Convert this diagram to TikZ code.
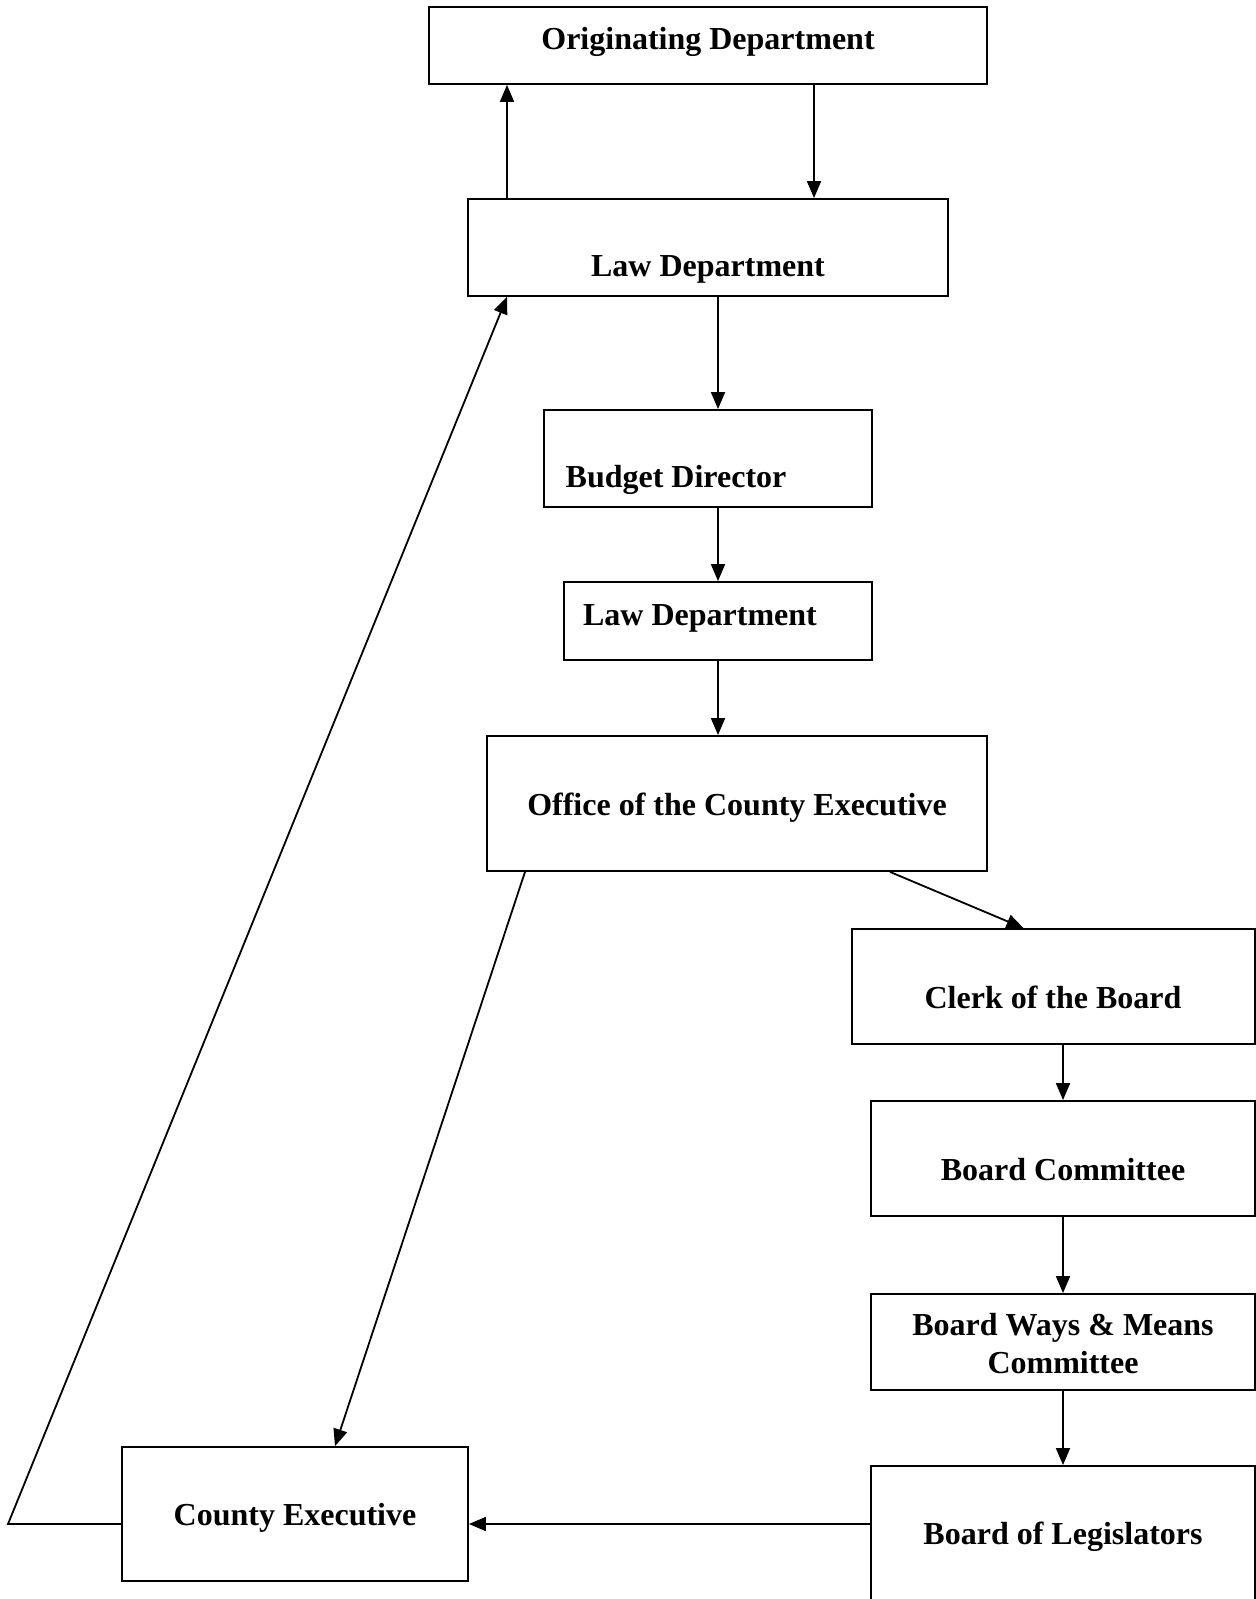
\documentclass[tikz,border=0pt]{standalone}
\usepackage{fontspec}
\setmainfont{Liberation Serif}
\usetikzlibrary{arrows.meta}

\begin{document}
\begin{tikzpicture}[x=0.5pt, y=-0.5pt,
% Node styles
 box/.style={draw, line width=0.9pt, inner sep=0pt},
 txt/.style={font=\bfseries\fontsize{16}{19}\selectfont, align=center, inner sep=0pt},
% Edge styles
 arr/.style={draw, line width=0.9pt, -{Triangle[length=8.5pt,width=7pt]}},
 edge/.style={draw, line width=0.9pt}
]
\useasboundingbox (0,0) rectangle (1256,1599);
% Upper chain
\node[box, minimum width=279pt, minimum height=38.5pt] (orig) at (708,45.5) {};
\node[txt] (orig-t) at (708,42) {Originating Department};
\node[box, minimum width=240pt, minimum height=48.5pt] (law1) at (708,247.5) {};
\node[txt] (law1-t) at (708,269) {Law Department};
\node[box, minimum width=164pt, minimum height=48.5pt] (budget) at (708,458.5) {};
\node[txt] (budget-t) at (676,480) {Budget Director};
\node[box, minimum width=154pt, minimum height=39pt] (law2) at (718,621) {};
\node[txt] (law2-t) at (700,618) {Law Department};
\node[box, minimum width=250pt, minimum height=67.5pt] (office) at (737,803.5) {};
\node[txt] (office-t) at (737,808) {Office of the County Executive};
% Board chain (right)
\node[box, minimum width=201.5pt, minimum height=57.5pt] (clerk) at (1053.5,986.5) {};
\node[txt] (clerk-t) at (1053,997) {Clerk of the Board};
\node[box, minimum width=192pt, minimum height=57.5pt] (bcomm) at (1063,1158.5) {};
\node[txt] (bcomm-t) at (1063,1170) {Board Committee};
\node[box, minimum width=192pt, minimum height=48pt] (bwm) at (1063,1342) {};
\node[txt] (bwm-t) at (1063,1344) {Board Ways \& Means\\Committee};
\node[box, minimum width=192pt, minimum height=68pt] (bol) at (1063,1534) {};
\node[txt] (bol-t) at (1063,1537) {Board of Legislators};
% County Executive (left)
\node[box, minimum width=173pt, minimum height=67pt] (cexec) at (295,1514) {};
\node[txt] (cexec-t) at (295,1518) {County Executive};
\coordinate (turn) at (8,1524);
% Connect boxes
\draw[arr] ([xshift=53pt]orig.south) -- ([xshift=53pt]law1.north);
\draw[arr] ([xshift=-100.5pt]law1.north) -- ([xshift=-100.5pt]orig.south);
\draw[arr] (law1.south -| law2) -- (budget.north -| law2);
\draw[arr] (budget.south -| law2) -- (law2.north);
\draw[arr] (law2.south) -- (office.north -| law2);
\draw[arr] ([xshift=76.5pt]office.south) -- ([xshift=-15pt]clerk.north);
\draw[arr] ([xshift=-106pt]office.south) -- ([xshift=20pt]cexec.north);
\draw[arr] (clerk.south -| bcomm) -- (bcomm.north);
\draw[arr] (bcomm.south) -- (bwm.north);
\draw[arr] (bwm.south) -- (bol.north);
\draw[arr] (bol.west |- turn) -- (cexec.east |- turn);
\draw[arr] (cexec.west |- turn) -- (turn) -- ([xshift=-100.5pt]law1.south);
\end{tikzpicture}
\end{document}
